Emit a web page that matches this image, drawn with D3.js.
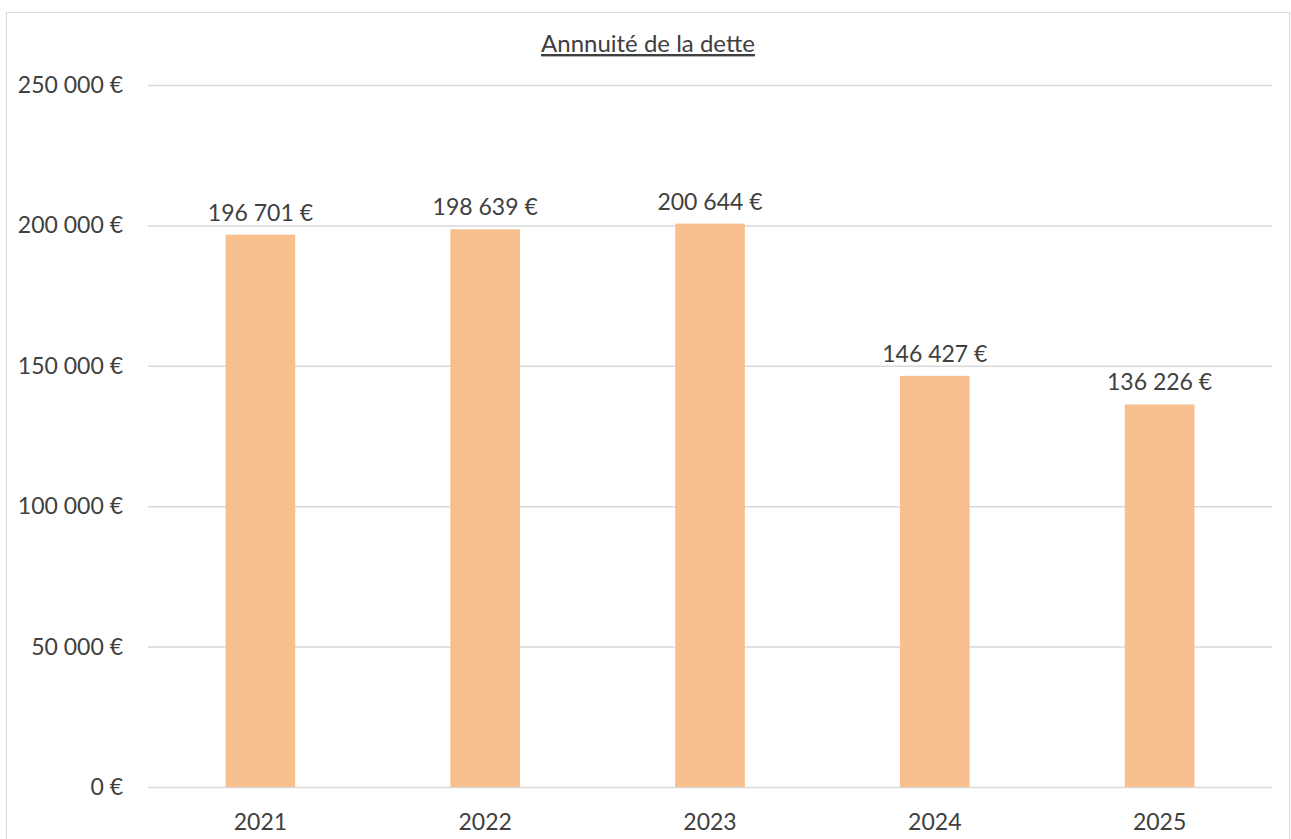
<!DOCTYPE html>
<html>
<head>
<meta charset="utf-8">
<script src="https://cdn.jsdelivr.net/npm/d3@7"></script>
<style>
  body { margin: 0; background: #fff; }
  text { font-family: Lato, "Open Sans", sans-serif; fill: #404040; }
</style>
</head>
<body>
<script>
const width = 1291;
const height = 839;

const title = 'Annnuité de la dette';
const years = ['2021', '2022', '2023', '2024', '2025'];
const annuite = [196701, 198639, 200644, 146427, 136226];
const yTicks = [0, 50000, 100000, 150000, 200000, 250000];

const margin = { left: 148, right: 19, top: 85, bottom: 52 };

const fmt = v => d3.format(',')(v).replace(/,/g, ' ') + ' €';

const svg = d3.select('body')
  .append('svg')
  .attr('width', width)
  .attr('height', height);

// chart frame
svg.append('rect')
  .attr('x', 6.5)
  .attr('y', 12.5)
  .attr('width', 1283)
  .attr('height', 840)
  .attr('fill', 'white')
  .attr('stroke', '#d9d9d9');

const x = d3.scaleBand()
  .domain(years)
  .range([margin.left, width - margin.right])
  .paddingInner(0.69)
  .paddingOuter(0.345);

const y = d3.scaleLinear()
  .domain([0, 250000])
  .range([height - margin.bottom, margin.top]);

// gridlines
svg.append('g')
  .attr('transform', `translate(${margin.left},0)`)
  .call(d3.axisLeft(y).tickValues(yTicks).tickSize(-(width - margin.right - margin.left)).tickFormat(''))
  .call(g => g.select('.domain').remove())
  .selectAll('line')
  .attr('stroke', '#d9d9d9')
  .attr('stroke-width', 1.5);

// y labels
svg.append('g')
  .selectAll('text')
  .data(yTicks)
  .enter()
  .append('text')
  .attr('x', 123)
  .attr('y', d => y(d) + 8)
  .attr('text-anchor', 'end')
  .attr('font-size', 23)
  .text(fmt);

// bars
svg.selectAll('.bar')
  .data(annuite)
  .enter()
  .append('rect')
  .attr('class', 'bar')
  .attr('x', (d, i) => x(years[i]))
  .attr('y', d => y(d))
  .attr('width', x.bandwidth())
  .attr('height', d => y(0) - y(d))
  .attr('fill', '#f8c08f');

// bar labels
svg.selectAll('.lbl')
  .data(annuite)
  .enter()
  .append('text')
  .attr('class', 'lbl')
  .attr('x', (d, i) => x(years[i]) + x.bandwidth() / 2)
  .attr('y', d => y(d) - 14)
  .attr('text-anchor', 'middle')
  .attr('font-size', 23)
  .text(fmt);

// x labels
svg.selectAll('.xl')
  .data(years)
  .enter()
  .append('text')
  .attr('class', 'xl')
  .attr('x', d => x(d) + x.bandwidth() / 2)
  .attr('y', height - 9)
  .attr('text-anchor', 'middle')
  .attr('font-size', 23)
  .text(d => d);

// title
svg.append('text')
  .attr('x', 648)
  .attr('y', 52)
  .attr('text-anchor', 'middle')
  .attr('font-size', 24)
  .attr('text-decoration', 'underline')
  .text(title);
</script>
</body>
</html>
